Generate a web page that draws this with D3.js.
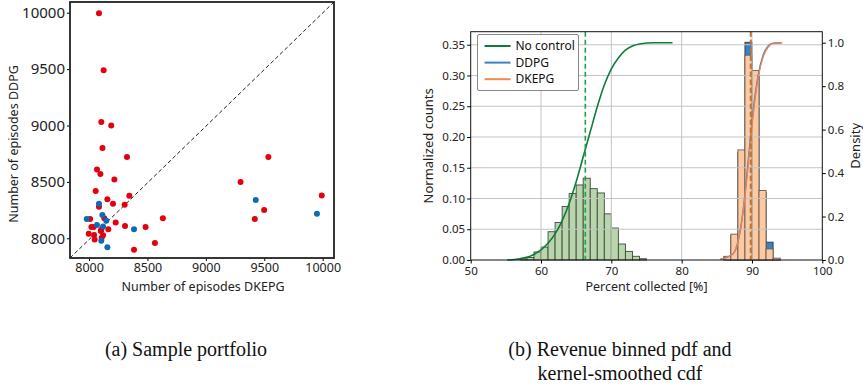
<!DOCTYPE html>
<html>
<head>
<meta charset="utf-8">
<script src="https://cdn.jsdelivr.net/npm/d3@7"></script>
<style>
  html, body { margin: 0; padding: 0; background: #fff; }
  svg { display: block; }
  .tick text { font-family: "Noto Sans", sans-serif; fill: #222; }
  .caption { font-family: "Liberation Serif", serif; font-size: 20px; fill: #111; }
</style>
</head>
<body>
<div id="chart"></div>
<script>
// (a) sample portfolio scatter
const redX = [8085, 8125, 8105, 8190, 8115, 8325, 9535, 8068, 8097, 8217, 9297, 8057, 8345,
  9992, 8157, 8205, 8305, 8085, 8632, 9499, 9419, 8009, 8228, 8131, 8020, 8040, 8308, 8484,
  8165, 8105, 7997, 8120, 8048, 8108, 8564, 8385, 8043, 8100];
const redY = [9995, 9490, 9030, 9000, 8800, 8720, 8720, 8610, 8570, 8520, 8500, 8420, 8377,
  8380, 8347, 8306, 8298, 8280, 8178, 8251, 8170, 8170, 8139, 8177, 8100, 8100, 8108, 8100,
  8080, 8075, 8040, 8027, 7990, 8005, 7958, 7899, 8030, 8065];
const blueX = [7980, 8085, 9427, 9951, 8114, 8148, 8068, 8120, 8385, 8105, 8157];
const blueY = [8170, 8307, 8340, 8218, 8206, 8156, 8118, 8104, 8080, 7979, 7920];
const episodeTicks = [8000, 8500, 9000, 9500, 10000];

// (b) revenue histograms (bin start, width 1) and smoothed cdfs
const noControlBins = [57, 58, 59, 60, 61, 62, 63, 64, 65, 66, 67, 68, 69, 70, 71, 72, 73, 74];
const noControlCounts = [0.002, 0.004, 0.013, 0.021, 0.046, 0.061, 0.087, 0.108, 0.122, 0.133,
  0.116, 0.109, 0.075, 0.052, 0.026, 0.014, 0.006, 0.002];
const agentBins = [86, 87, 88, 89, 90, 91, 92, 93];
const ddpgCounts = [0.005, 0.040, 0.175, 0.354, 0.300, 0.110, 0.029, 0.002];
const dkepgCounts = [0.006, 0.042, 0.179, 0.333, 0.308, 0.113, 0.018, 0.003];

const noControlCdfX = [55.2, 57, 59, 61, 62, 63, 64, 65, 66, 67, 68, 69, 70, 71, 72, 73, 74, 76, 78.7];
const noControlCdfY = [0, 0.006, 0.025, 0.077, 0.12, 0.18, 0.26, 0.36, 0.475, 0.59, 0.705, 0.805,
  0.88, 0.93, 0.966, 0.985, 0.994, 1.0, 1.0];
const ddpgCdfX = [85.5, 87.35, 88.05, 88.75, 89.45, 90.15, 90.85, 91.55, 92.3, 93.0, 94.2];
const ddpgCdfY = [0.003, 0.03, 0.09, 0.23, 0.45, 0.68, 0.845, 0.94, 0.985, 0.998, 1.0];
const dkepgCdfX = [85.45, 87.35, 88.06, 88.77, 89.48, 90.19, 90.9, 91.6, 92.3, 93.0, 94.3];
const dkepgCdfY = [0.003, 0.03, 0.092, 0.23, 0.445, 0.675, 0.844, 0.936, 0.98, 0.997, 1.0];

const means = [66.3, 89.8, 89.85];
const seriesNames = ['No control', 'DDPG', 'DKEPG'];
const lineColors = ['#0e7d3a', '#3a80c2', '#ef8d4c'];
const meanColors = ['#22a04a', '#3a80c2', '#e07010'];

const W = 863, H = 392;
const svg = d3.select('#chart').append('svg').attr('width', W).attr('height', H);

// ---------- left panel ----------
const L = { x0: 70, x1: 334, y0: 2, y1: 258 };
const ex = d3.scaleLinear().domain([7837, 10097]).range([L.x0, L.x1]);
const ey = d3.scaleLinear().domain([7825, 10095]).range([L.y1, L.y0]);

const left = svg.append('g');
left.append('line')
  .attr('x1', L.x0).attr('y1', L.y1).attr('x2', L.x1).attr('y2', L.y0)
  .attr('stroke', '#222').attr('stroke-width', 1).attr('stroke-dasharray', '4,2.5');

left.selectAll('circle.red')
  .data(d3.zip(redX, redY))
  .enter().append('circle')
  .attr('class', 'red')
  .attr('cx', d => ex(d[0])).attr('cy', d => ey(d[1])).attr('r', 3)
  .attr('fill', '#e3000f');
left.selectAll('circle.blue')
  .data(d3.zip(blueX, blueY))
  .enter().append('circle')
  .attr('class', 'blue')
  .attr('cx', d => ex(d[0])).attr('cy', d => ey(d[1])).attr('r', 3)
  .attr('fill', '#0a6db3');

left.append('g').attr('transform', `translate(0,${L.y1})`)
  .call(d3.axisBottom(ex).tickValues(episodeTicks).tickSize(3).tickPadding(2).tickFormat(d3.format('d')))
  .call(g => g.selectAll('text').style('font-size', '12.5px'));
left.append('g').attr('transform', `translate(${L.x0},0)`)
  .call(d3.axisLeft(ey).tickValues(episodeTicks).tickSize(3).tickPadding(2).tickFormat(d3.format('d')))
  .call(g => g.selectAll('text').style('font-size', '15px'));
left.selectAll('.domain').remove();
left.append('rect')
  .attr('x', L.x0).attr('y', L.y0).attr('width', L.x1 - L.x0).attr('height', L.y1 - L.y0)
  .attr('fill', 'none').attr('stroke', '#222').attr('stroke-width', 1.8);

left.append('text')
  .attr('x', (L.x0 + L.x1) / 2 + 1).attr('y', 291)
  .attr('text-anchor', 'middle').style('font-family', 'Noto Sans').style('font-size', '12.5px').attr('fill', '#222')
  .text('Number of episodes DKEPG');
left.append('text')
  .attr('transform', `translate(18,${(L.y0 + L.y1) / 2 + 14}) rotate(-90)`)
  .attr('text-anchor', 'middle').style('font-family', 'Noto Sans').style('font-size', '12.5px').attr('fill', '#222')
  .text('Number of episodes DDPG');

// ---------- right panel ----------
const R = { x0: 470.7, x1: 822.3, y0: 31.7, y1: 260 };
const px = d3.scaleLinear().domain([50, 100]).range([R.x0, R.x1]);
const py = d3.scaleLinear().domain([0, 0.3712]).range([R.y1, R.y0]);
const cy = d3.scaleLinear().domain([0, 1.0506]).range([R.y1, R.y0]);
const pctTicks = [50, 60, 70, 80, 90, 100];
const countTicks = [0, 0.05, 0.1, 0.15, 0.2, 0.25, 0.3, 0.35];
const densityTicks = [0, 0.2, 0.4, 0.6, 0.8, 1.0];

const right = svg.append('g');

function bars(bins, counts, fill, stroke) {
  right.append('g').selectAll('rect')
    .data(d3.zip(bins, counts))
    .enter().append('rect')
    .attr('x', d => px(d[0])).attr('width', d => px(d[0] + 1) - px(d[0]))
    .attr('y', d => py(d[1])).attr('height', d => R.y1 - py(d[1]))
    .attr('fill', fill).attr('stroke', stroke).attr('stroke-width', 0.9);
}
bars(noControlBins, noControlCounts, '#b8d5ac', '#3d4a3d');
bars(agentBins, ddpgCounts, '#3d7fc1', '#2a3a4a');
bars(agentBins, dkepgCounts, '#fdc9a0', '#6a5a50');

// grid over bars, as in the original
const grid = right.append('g').attr('stroke', '#c4c4c4').attr('stroke-width', 1);
grid.selectAll('line.gx').data(pctTicks.slice(1, -1)).enter().append('line')
  .attr('x1', d => px(d)).attr('x2', d => px(d)).attr('y1', R.y0).attr('y2', R.y1);
grid.selectAll('line.gy').data(countTicks.slice(1)).enter().append('line')
  .attr('y1', d => py(d)).attr('y2', d => py(d)).attr('x1', R.x0).attr('x2', R.x1);

const cdfLine = d3.line().x(d => px(d[0])).y(d => cy(d[1])).curve(d3.curveMonotoneX);
right.append('path').datum(d3.zip(noControlCdfX, noControlCdfY))
  .attr('d', cdfLine).attr('fill', 'none').attr('stroke', lineColors[0]).attr('stroke-width', 1.6);
right.append('path').datum(d3.zip(ddpgCdfX, ddpgCdfY))
  .attr('d', cdfLine).attr('fill', 'none').attr('stroke', lineColors[1]).attr('stroke-width', 1.4);
right.append('path').datum(d3.zip(dkepgCdfX, dkepgCdfY))
  .attr('d', cdfLine).attr('fill', 'none').attr('stroke', '#e8845a').attr('stroke-width', 1.4);

right.selectAll('line.mean').data(means).enter().append('line')
  .attr('x1', d => px(d)).attr('x2', d => px(d)).attr('y1', R.y0).attr('y2', R.y1)
  .attr('stroke', (d, i) => meanColors[i]).attr('stroke-width', 1.6).attr('stroke-dasharray', '5,3');

right.append('rect')
  .attr('x', R.x0).attr('y', R.y0).attr('width', R.x1 - R.x0).attr('height', R.y1 - R.y0)
  .attr('fill', 'none').attr('stroke', '#111').attr('stroke-width', 1);

right.append('g').attr('transform', `translate(0,${R.y1})`)
  .call(d3.axisBottom(px).tickValues(pctTicks).tickSize(3.5).tickPadding(3.5))
  .call(g => g.selectAll('text').style('font-size', '11.5px'));
right.append('g').attr('transform', `translate(${R.x0},0)`)
  .call(d3.axisLeft(py).tickValues(countTicks).tickSize(3.5).tickPadding(2).tickFormat(d3.format('.2f')))
  .call(g => g.selectAll('text').style('font-size', '11.5px'));
right.append('g').attr('transform', `translate(${R.x1},0)`)
  .call(d3.axisRight(cy).tickValues(densityTicks).tickSize(3.5).tickPadding(2).tickFormat(d3.format('.1f')))
  .call(g => g.selectAll('text').style('font-size', '11.5px'));
right.selectAll('.domain').remove();

right.append('text')
  .attr('x', (R.x0 + R.x1) / 2).attr('y', 291)
  .attr('text-anchor', 'middle').style('font-family', 'Noto Sans').style('font-size', '12.5px').attr('fill', '#222')
  .text('Percent collected [%]');
right.append('text')
  .attr('transform', `translate(433,${(R.y0 + R.y1) / 2}) rotate(-90)`)
  .attr('text-anchor', 'middle').style('font-family', 'Noto Sans').style('font-size', '13px').attr('fill', '#222')
  .text('Normalized counts');
right.append('text')
  .attr('transform', `translate(860,${(R.y0 + R.y1) / 2}) rotate(-90)`)
  .attr('text-anchor', 'middle').style('font-family', 'Noto Sans').style('font-size', '13px').attr('fill', '#222')
  .text('Density');

// legend
const legend = right.append('g').attr('transform', 'translate(477.5,34.5)');
legend.append('rect').attr('width', 101).attr('height', 56).attr('rx', 1.5)
  .attr('fill', '#fff').attr('stroke', '#888').attr('stroke-width', 1);
seriesNames.forEach((name, i) => {
  const yy = 11.5 + i * 16.6;
  legend.append('line').attr('x1', 7).attr('x2', 33).attr('y1', yy).attr('y2', yy)
    .attr('stroke', lineColors[i]).attr('stroke-width', 2);
  legend.append('text').attr('x', 38).attr('y', yy + 4)
    .style('font-family', 'Noto Sans').style('font-size', '12px').attr('fill', '#111')
    .text(name);
});

// captions
svg.append('text').attr('class', 'caption').attr('x', 186).attr('y', 356).attr('text-anchor', 'middle')
  .text('(a) Sample portfolio');
svg.append('text').attr('class', 'caption').attr('x', 620).attr('y', 356).attr('text-anchor', 'middle')
  .text('(b) Revenue binned pdf and');
svg.append('text').attr('class', 'caption').attr('x', 620).attr('y', 380).attr('text-anchor', 'middle')
  .text('kernel-smoothed cdf');
</script>
</body>
</html>
